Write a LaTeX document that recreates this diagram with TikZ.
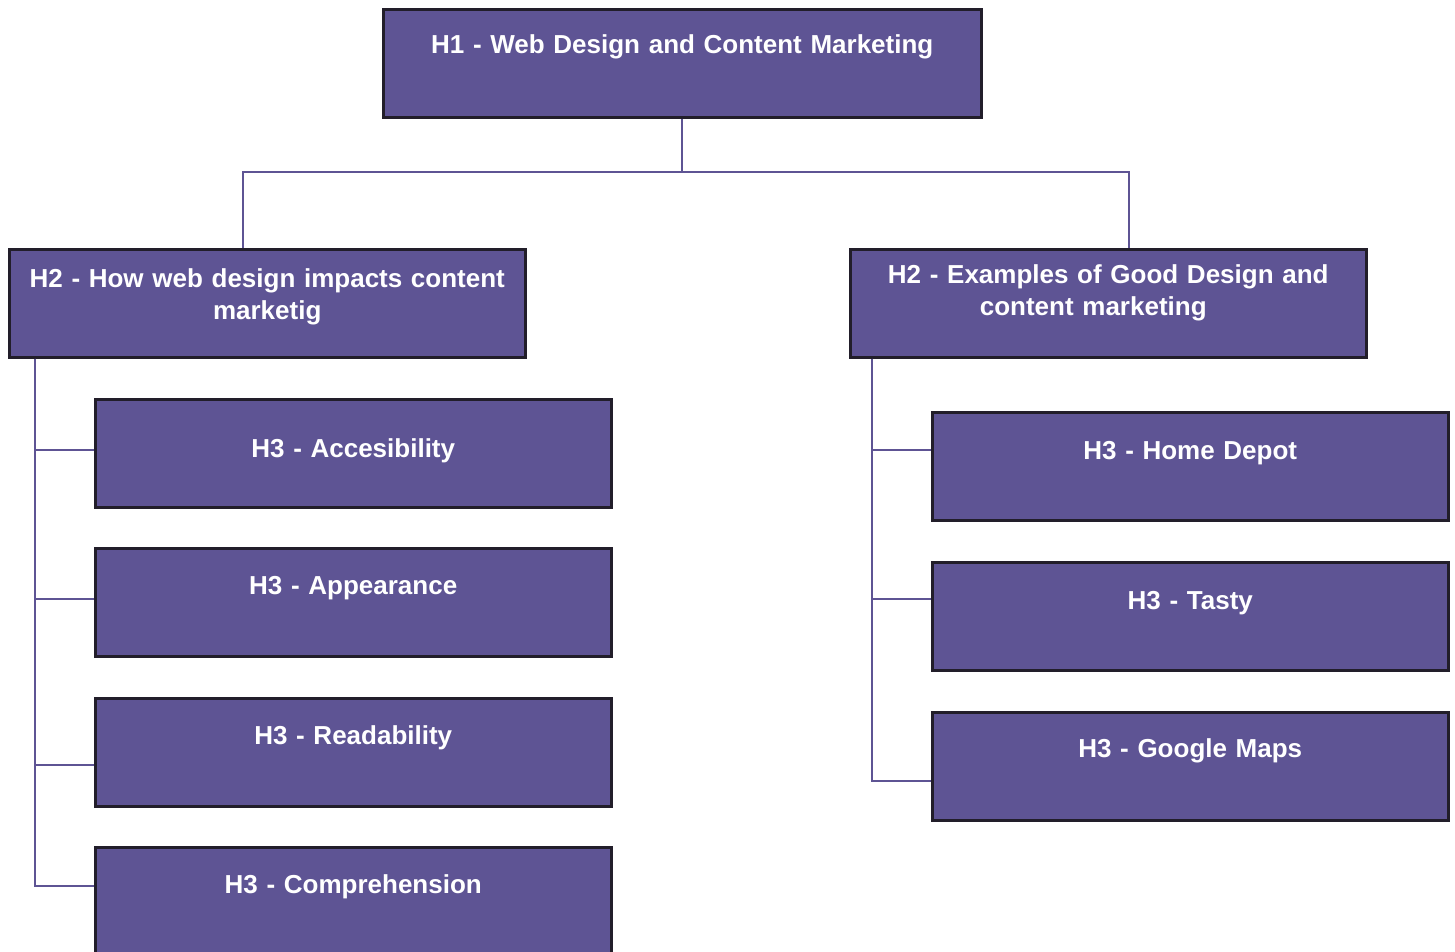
\documentclass[tikz,border=0pt]{standalone}
\usepackage{fontspec}
\setmainfont{Liberation Sans}
\usetikzlibrary{calc,positioning}
\definecolor{Heading}{RGB}{94,84,148}
\definecolor{Rim}{RGB}{34,30,42}

\begin{document}
\begin{tikzpicture}[x=1pt,y=-1pt,
  hbox/.style={draw=Rim, line width=2.5pt, fill=Heading, text=white,
    font=\fontsize{26}{32}\selectfont\bfseries, align=center,
    inner xsep=6pt, inner ysep=0pt, anchor=north west,
    text width=504pt, text height=#1, text depth={108-#1}},
  link/.style={draw=Heading, line width=2pt}]
\useasboundingbox (0,0) rectangle (1455,951);
%
\node[hbox=44, text width=586pt] (h1) at (382,8) {H1 - Web Design and Content Marketing};
\node[hbox=38] (h2a) at (8,248) {H2 - How web design impacts content\\marketig};
\node[hbox=34] (h2b) at (849,248) {H2 - Examples of Good Design and\hspace*{30pt}\\content marketing\hspace*{30pt}};
%
\node[hbox=58] (acc)  at (94,398) {H3 - Accesibility};
\node[hbox=46] (app)  at (94,547) {H3 - Appearance};
\node[hbox=46] (read) at (94,697) {H3 - Readability};
\node[hbox=46] (comp) at (94,846) {H3 - Comprehension};
%
\node[hbox=47] (home)   at (931,411) {H3 - Home Depot};
\node[hbox=47] (tasty)  at (931,561) {H3 - Tasty};
\node[hbox=45] (google) at (931,711) {H3 - Google Maps};
%
\draw[link] (h1.south) -- ++(0,53) coordinate (bus);
\draw[link] ([xshift=-24]h2a.north) |- (bus) -| ([xshift=21]h2b.north);
%
\coordinate (railA) at ([xshift=27]h2a.south west);
\coordinate (railB) at ([xshift=23]h2b.south west);
\foreach \n/\dy in {acc/3, app/3, read/-13, comp/15}
  \draw[link] (railA) |- ([yshift=\dy]\n.west);
\foreach \n/\dy in {home/16, tasty/17, google/-15}
  \draw[link] (railB) |- ([yshift=\dy]\n.west);
%
\end{tikzpicture}
\end{document}
